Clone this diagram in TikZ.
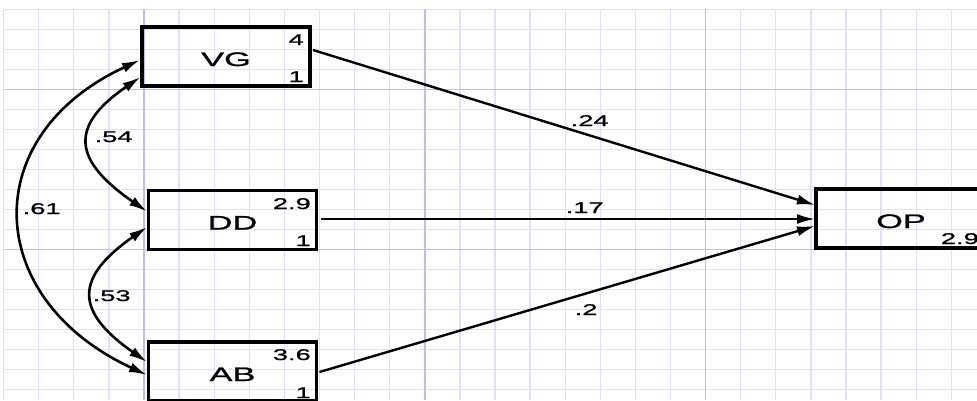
\documentclass[tikz,border=0pt]{standalone}
\usepackage{fontspec}
\usetikzlibrary{arrows.meta,calc}
\newfontfamily\wf[FakeStretch=1.76,FakeBold=1.2]{Liberation Sans}
\definecolor{gridlight}{RGB}{224,224,252}
\definecolor{griddark}{RGB}{190,190,246}
\begin{document}
\begin{tikzpicture}[x=1pt,y=-1pt,
  box/.style={draw=black, line width=3.2pt, outer sep=0pt, minimum width=168pt, minimum height=59pt, inner sep=0pt,
    font=\wf\fontsize{19.5}{20}\selectfont, text height=19pt, text depth=0pt},
  num/.style={inner sep=0pt, font=\wf\fontsize{15.5}{16}\selectfont},
  conn/.style={line width=2.4pt, -{Latex[length=18pt,width=10pt]}},
  cov/.style={line width=2.6pt, {Latex[length=18pt,width=10pt]}-{Latex[length=18pt,width=10pt]}},
  gl/.style={draw=gridlight, line width=1.3pt},
  gd/.style={draw=griddark, line width=1.5pt}
]
\useasboundingbox (0,0) rectangle (977,400);
\clip (0,0) rectangle (977,400);
% grid
\foreach \k in {0,...,27} \draw[gl] ({3.6+35.1*\k},9.3) -- ({3.6+35.1*\k},400);
\foreach \k in {0,...,19} \draw[gl] (3.6,{9.3+20*\k}) -- (977,{9.3+20*\k});
\foreach \k in {4,12,20} \draw[gd] ({3.6+35.1*\k},9.3) -- ({3.6+35.1*\k},400);
\foreach \k in {4,12} \draw[gd] (3.6,{9.3+20*\k}) -- (977,{9.3+20*\k});
% boxes
\node[box] (VG) at (226,56.5) {VG};
\node[box] (DD) at (232.5,220) {DD};
\node[box] (AB) at (232.5,371.5) {AB};
\node[box, minimum width=170pt] (OP) at (901,218.5) {OP};
% numbers in boxes
\node[num, anchor=base east] (VGa) at (304,45) {4};
\node[num, anchor=base east] (VGb) at (304,82) {1};
\node[num, anchor=base east] (DDa) at (311,209) {2.9};
\node[num, anchor=base east] (DDb) at (311,246) {1};
\node[num, anchor=base east] (ABa) at (311,360) {3.6};
\node[num, anchor=base east] (ABb) at (311,398) {1};
\node[num, anchor=base east] (OPa) at (979,244) {2.9};
% paths
\draw[conn] ($(VG.east)+(3,-6.5)$) -- ($(OP.west)+(-1,-13.5)$);
\draw[conn] ($(DD.east)+(4,-1)$) -- ($(OP.west)+(-1,0.5)$);
\draw[conn] ($(AB.east)+(3,0.5)$) -- ($(OP.west)+(-1,7.5)$);
% covariances
\draw[cov] ($(VG.west)+(-1.5,20.5)$) .. controls +(-73,50) and +(-73,-50.5) .. ($(DD.west)+(-1.5,-8.5)$);
\draw[cov] ($(VG.west)+(-2,3.5)$) .. controls +(-164,76) and +(-164,-76) .. ($(AB.west)+(-1.5,3.5)$);
\draw[cov] ($(DD.west)+(-1.5,7)$) .. controls +(-72.6,50.8) and +(-72.6,-50.8) .. ($(AB.west)+(-1.5,-9.5)$);
% labels
\node[num, anchor=base west] (l24) at (570.5,126) {.24};
\node[num, anchor=base west] (l17) at (565.5,213) {.17};
\node[num, anchor=base west] (l2) at (574.5,315) {.2};
\node[num, anchor=base west] (l54) at (94.5,142) {.54};
\node[num, anchor=base west] (l61) at (22.5,214) {.61};
\node[num, anchor=base west] (l53) at (92.5,301) {.53};
\end{tikzpicture}
\end{document}
